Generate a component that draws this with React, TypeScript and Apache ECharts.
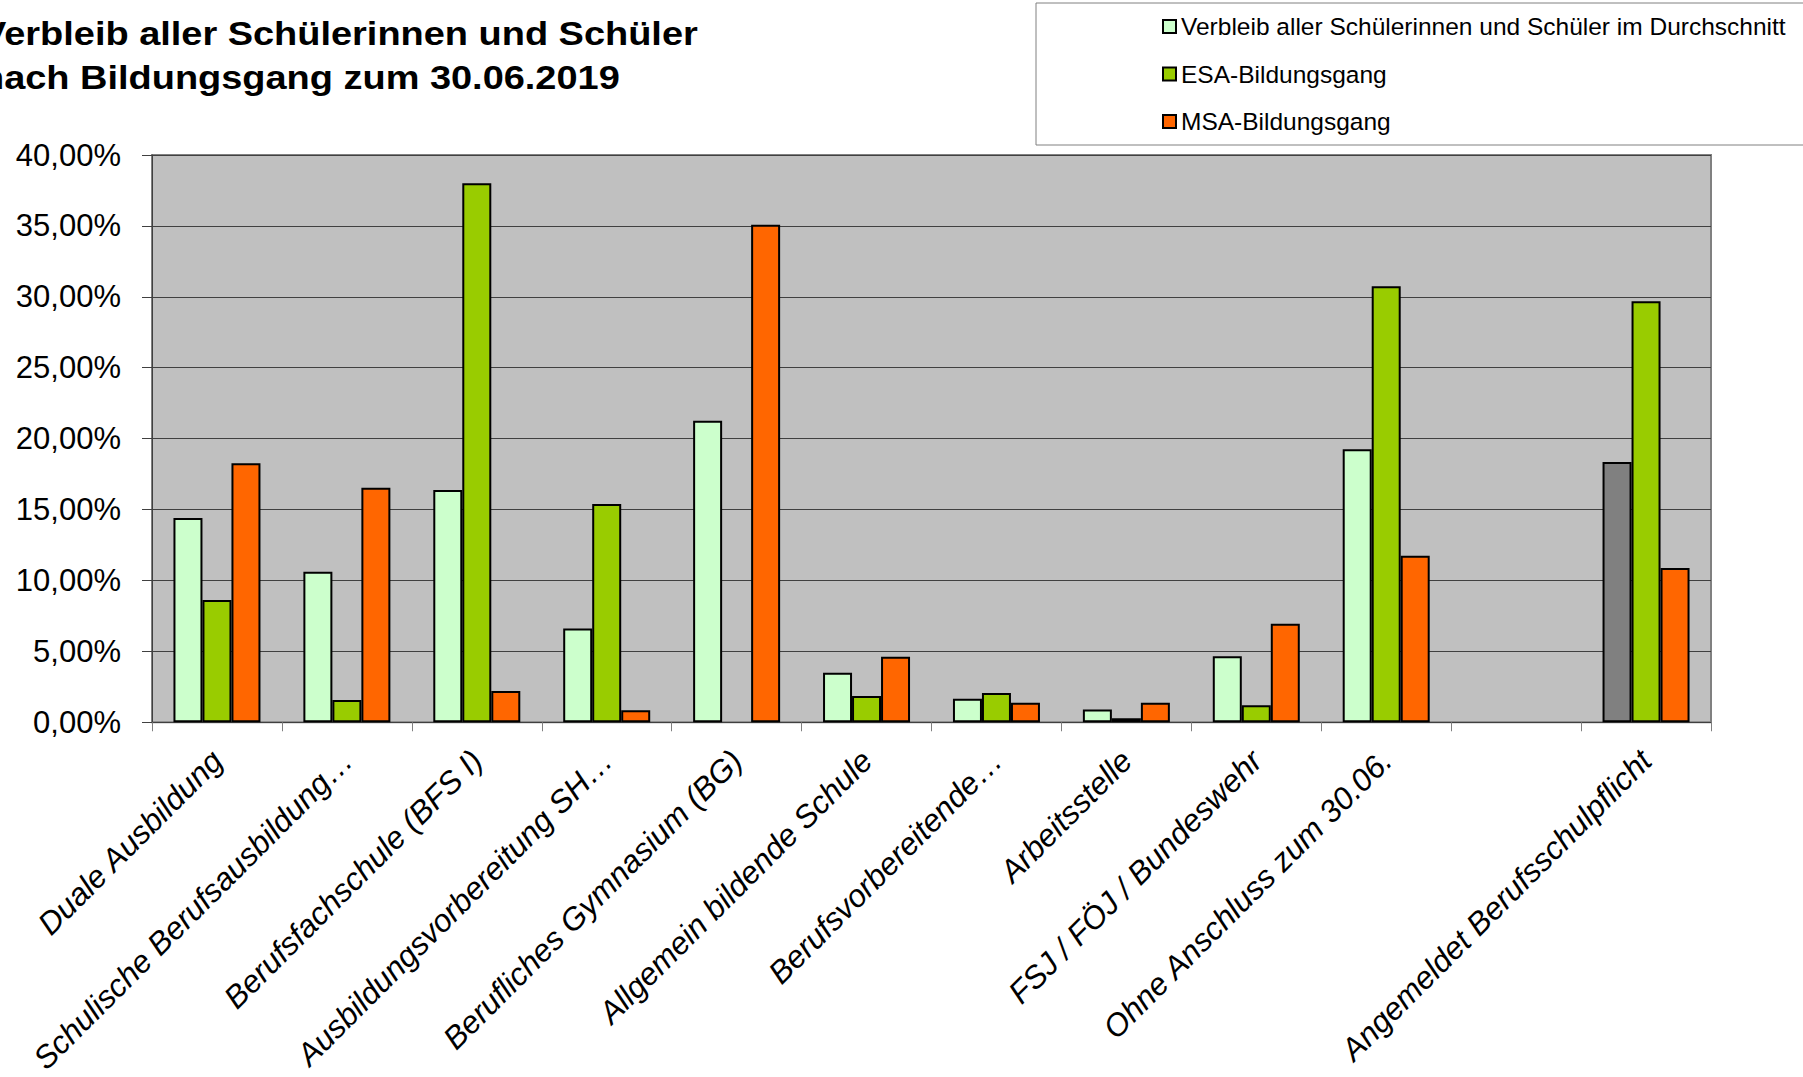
import React, { useEffect, useRef } from "react";
import * as echarts from "echarts";

// Destinations of school leavers, share per destination (in %)
const categories = [
  "Duale Ausbildung",
  "Schulische Berufsausbildung…",
  "Berufsfachschule (BFS I)",
  "Ausbildungsvorbereitung SH…",
  "Berufliches Gymnasium (BG)",
  "Allgemein bildende Schule",
  "Berufsvorbereitende…",
  "Arbeitsstelle",
  "FSJ / FÖJ / Bundeswehr",
  "Ohne Anschluss zum 30.06.",
  "",
  "Angemeldet Berufsschulpflicht",
];

const seriesNames = [
  "Verbleib aller Schülerinnen und Schüler im Durchschnitt",
  "ESA-Bildungsgang",
  "MSA-Bildungsgang",
];

const durchschnitt = [14.41, 10.62, 16.38, 6.61, 21.26, 3.5, 1.65, 0.9, 4.65, 19.25, null, 18.35];
const esa = [8.63, 1.57, 38.01, 15.39, null, 1.86, 2.07, 0.29, 1.2, 30.74, null, 29.68];
const msa = [18.26, 16.54, 2.2, 0.85, 35.09, 4.62, 1.38, 1.38, 6.94, 11.75, null, 10.88];

// categories whose average bar is shown in grey
const greyCategories = ["Angemeldet Berufsschulpflicht"];

const yTicks = { min: 0, max: 40, interval: 5 };

const titleLines = [
  "Verbleib aller Schülerinnen und Schüler",
  "nach Bildungsgang zum 30.06.2019",
];

const colors = ["#CCFFCC", "#99CC00", "#FF6600"];
const greyColor = "#808080";
const FONT = '"Liberation Sans", Arial, Helvetica, sans-serif';

export default function App() {
  const ref = useRef<HTMLDivElement>(null);

  useEffect(() => {
    if (!ref.current) return;
    const chart = echarts.init(ref.current, null, { renderer: "svg" });

    const avgData = durchschnitt.map((v, i) =>
      greyCategories.includes(categories[i])
        ? { value: v, itemStyle: { color: greyColor } }
        : v
    );
    const seriesData = [avgData, esa, msa];

    const option: any = {
      animation: false,
      backgroundColor: "#ffffff",
      textStyle: { fontFamily: FONT },
      graphic: titleLines.map((t, i) => ({
        type: "text",
        x: -19,
        y: 33.5 + i * 44.5,
        scaleX: 1.15,
        style: {
          text: t,
          font: `bold 33px ${FONT}`,
          fill: "#000",
          verticalAlign: "middle",
          align: "left",
        },
      })),
      legend: {
        orient: "vertical",
        left: 1036,
        top: 3,
        padding: [11, 40, 11, 126],
        borderColor: "#808080",
        borderWidth: 1,
        itemWidth: 13,
        itemHeight: 13,
        itemGap: 22.5,
        icon: "rect",
        itemStyle: { borderColor: "#000", borderWidth: 2 },
        textStyle: { fontSize: 24.5, lineHeight: 24, color: "#000", fontFamily: FONT },
        data: seriesNames,
      },
      grid: {
        left: 152,
        right: 92,
        top: 155,
        bottom: 345,
        show: true,
        backgroundColor: "#C0C0C0",
        borderColor: "#808080",
        borderWidth: 2,
      },
      xAxis: {
        type: "category",
        data: categories,
        axisLine: { show: true, lineStyle: { color: "#404040", width: 1 } },
        axisTick: { show: true, length: 9, lineStyle: { color: "#808080" } },
        axisLabel: {
          interval: 0,
          rotate: 45,
          margin: 33,
          fontSize: 31.5,
          fontStyle: "italic",
          color: "#000",
          fontFamily: FONT,
        },
        splitLine: { show: false },
      },
      yAxis: {
        type: "value",
        min: yTicks.min,
        max: yTicks.max,
        interval: yTicks.interval,
        axisLine: { show: true, lineStyle: { color: "#404040", width: 1 } },
        axisTick: { show: true, length: 10, lineStyle: { color: "#404040" } },
        axisLabel: {
          margin: 31,
          fontSize: 31,
          color: "#000",
          fontFamily: FONT,
          formatter: (v: number) => v.toFixed(2).replace(".", ",") + "%",
        },
        splitLine: { show: true, lineStyle: { color: "#404040", width: 1 } },
      },
      series: seriesNames.map((name, i) => ({
        name,
        type: "bar",
        barWidth: 29,
        barGap: "0%",
        data: seriesData[i],
        itemStyle: { color: colors[i], borderColor: "#000", borderWidth: 2 },
      })),
    };

    chart.setOption(option);
    return () => chart.dispose();
  }, []);

  return (
    <div
      ref={ref}
      style={{ position: "fixed", left: 0, top: 0, width: 1803, height: 1077, background: "#fff" }}
    />
  );
}
